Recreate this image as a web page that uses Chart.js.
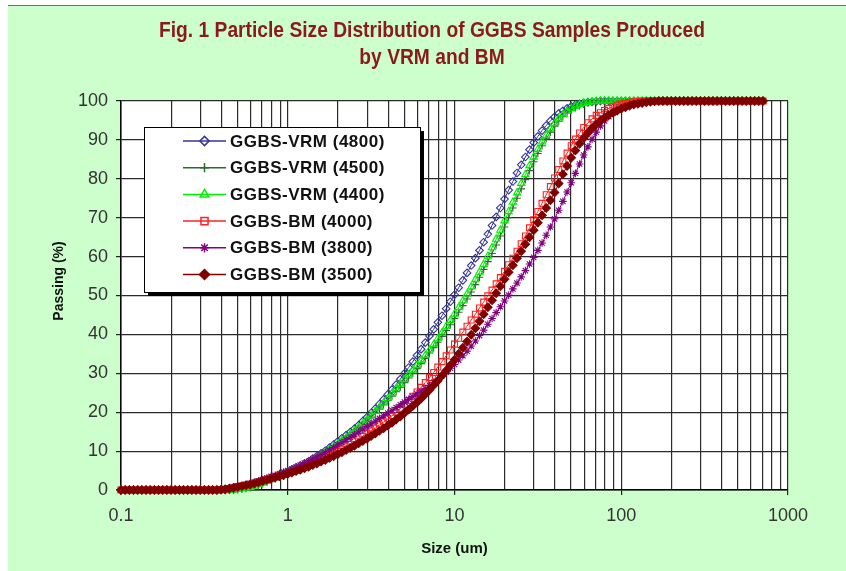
<!DOCTYPE html>
<html>
<head>
<meta charset="utf-8">
<script src="https://cdn.jsdelivr.net/npm/chart.js@4/dist/chart.umd.min.js"></script>
<style>
  html, body { margin: 0; padding: 0; background: #fff; }
  #frame {
    position: absolute; left: 8px; top: 5px;
    width: 838px; height: 565px;
    border-top: 1px solid #6e6e6e;
    background: #ccffcc;
  }
  #chart { display: block; }
</style>
</head>
<body>
<div id="frame"><canvas id="chart" width="838" height="565"></canvas></div>
<script>
// particle size classes (um)
const sizes = [
  0.1, 0.1059, 0.1122, 0.1189, 0.1259, 0.1334, 0.1413, 0.1496, 0.1585, 0.1679,
  0.1778, 0.1884, 0.1995, 0.2113, 0.2239, 0.2371, 0.2512, 0.2661, 0.2818, 0.2985,
  0.3162, 0.3350, 0.3548, 0.3758, 0.3981, 0.4217, 0.4467, 0.4732, 0.5012, 0.5309,
  0.5623, 0.5957, 0.6310, 0.6683, 0.7079, 0.7499, 0.7943, 0.8414, 0.8913, 0.9441,
  1.000, 1.059, 1.122, 1.189, 1.259, 1.334, 1.413, 1.496, 1.585, 1.679,
  1.778, 1.884, 1.995, 2.113, 2.239, 2.371, 2.512, 2.661, 2.818, 2.985,
  3.162, 3.350, 3.548, 3.758, 3.981, 4.217, 4.467, 4.732, 5.012, 5.309,
  5.623, 5.957, 6.310, 6.683, 7.079, 7.499, 7.943, 8.414, 8.913, 9.441,
  10.00, 10.59, 11.22, 11.89, 12.59, 13.34, 14.13, 14.96, 15.85, 16.79,
  17.78, 18.84, 19.95, 21.13, 22.39, 23.71, 25.12, 26.61, 28.18, 29.85,
  31.62, 33.50, 35.48, 37.58, 39.81, 42.17, 44.67, 47.32, 50.12, 53.09,
  56.23, 59.57, 63.10, 66.83, 70.79, 74.99, 79.43, 84.14, 89.13, 94.41,
  100.0, 105.9, 112.2, 118.9, 125.9, 133.4, 141.3, 149.6, 158.5, 167.9,
  177.8, 188.4, 199.5, 211.3, 223.9, 237.1, 251.2, 266.1, 281.8, 298.5,
  316.2, 335.0, 354.8, 375.8, 398.1, 421.7, 446.7, 473.2, 501.2, 530.9,
  562.3, 595.7, 631.0, 668.3, 707.9
];

// cumulative passing (%)
const vrm4800 = [
  0, 0, 0, 0, 0, 0, 0, 0, 0, 0,
  0, 0, 0, 0, 0, 0, 0, 0, 0, 0,
  0, 0, 0, 0, 0, 0, 0.1, 0.2, 0.4, 0.6,
  0.8, 1.1, 1.4, 1.7, 2.1, 2.5, 3.0, 3.4, 3.9, 4.3,
  4.8, 5.3, 5.8, 6.3, 6.8, 7.4, 8.1, 8.7, 9.4, 10.1,
  10.9, 11.7, 12.5, 13.3, 14.1, 14.9, 15.8, 16.7, 17.7, 18.7,
  19.8, 20.9, 22.1, 23.3, 24.6, 25.8, 27.1, 28.5, 30.0, 31.5,
  33.0, 34.6, 36.2, 37.9, 39.6, 41.3, 43.1, 44.8, 46.6, 48.4,
  50.2, 52.0, 53.9, 55.8, 57.7, 59.6, 61.6, 63.7, 65.8, 68.0,
  70.2, 72.5, 74.8, 77.1, 79.3, 81.5, 83.6, 85.6, 87.5, 89.3,
  90.9, 92.4, 93.7, 94.9, 95.9, 96.8, 97.5, 98.1, 98.6, 99.0,
  99.3, 99.5, 99.7, 99.8, 99.9, 100, 100, 100, 100, 100,
  100, 100, 100, 100, 100, 100, 100, 100, 100, 100,
  100, 100, 100, 100, 100, 100, 100, 100, 100, 100,
  100, 100, 100, 100, 100, 100, 100, 100, 100, 100,
  100, 100, 100, 100, 100
];
const vrm4500 = [
  0, 0, 0, 0, 0, 0, 0, 0, 0, 0,
  0, 0, 0, 0, 0, 0, 0, 0, 0, 0,
  0, 0, 0, 0, 0, 0, 0, 0, 0.1, 0.2,
  0.4, 0.6, 0.9, 1.2, 1.6, 2.0, 2.5, 2.9, 3.3, 3.7,
  4.2, 4.7, 5.2, 5.7, 6.3, 6.9, 7.5, 8.1, 8.8, 9.4,
  10.1, 10.8, 11.6, 12.4, 13.2, 14.0, 14.9, 15.8, 16.7, 17.7,
  18.7, 19.7, 20.8, 21.9, 23.0, 24.1, 25.3, 26.4, 27.6, 28.8,
  30.0, 31.2, 32.5, 33.8, 35.2, 36.6, 38.0, 39.5, 41.0, 42.5,
  44.1, 45.7, 47.4, 49.1, 50.9, 52.8, 54.7, 56.7, 58.7, 60.8,
  63.0, 65.3, 67.6, 70.0, 72.5, 75.0, 77.4, 79.8, 82.1, 84.4,
  86.5, 88.5, 90.3, 92.0, 93.5, 94.8, 96.0, 96.9, 97.7, 98.3,
  98.8, 99.2, 99.5, 99.7, 99.8, 99.9, 100, 100, 100, 100,
  100, 100, 100, 100, 100, 100, 100, 100, 100, 100,
  100, 100, 100, 100, 100, 100, 100, 100, 100, 100,
  100, 100, 100, 100, 100, 100, 100, 100, 100, 100,
  100, 100, 100, 100, 100
];
const vrm4400 = [
  0, 0, 0, 0, 0, 0, 0, 0, 0, 0,
  0, 0, 0, 0, 0, 0, 0, 0, 0, 0,
  0, 0, 0, 0, 0, 0, 0, 0, 0.2, 0.3,
  0.5, 0.7, 1.0, 1.4, 1.8, 2.2, 2.7, 3.1, 3.5, 3.9,
  4.4, 4.9, 5.4, 5.9, 6.5, 7.1, 7.7, 8.3, 9.0, 9.7,
  10.4, 11.1, 11.9, 12.7, 13.5, 14.3, 15.2, 16.1, 17.1, 18.1,
  19.1, 20.2, 21.3, 22.4, 23.6, 24.8, 26.0, 27.2, 28.4, 29.6,
  30.8, 32.0, 33.3, 34.6, 36.0, 37.4, 38.9, 40.4, 42.0, 43.6,
  45.2, 46.9, 48.6, 50.4, 52.2, 54.1, 56.0, 58.0, 60.1, 62.3,
  64.5, 66.8, 69.2, 71.6, 74.0, 76.4, 78.8, 81.1, 83.4, 85.6,
  87.6, 89.5, 91.2, 92.8, 94.2, 95.4, 96.5, 97.4, 98.1, 98.7,
  99.1, 99.4, 99.6, 99.8, 99.9, 100, 100, 100, 100, 100,
  100, 100, 100, 100, 100, 100, 100, 100, 100, 100,
  100, 100, 100, 100, 100, 100, 100, 100, 100, 100,
  100, 100, 100, 100, 100, 100, 100, 100, 100, 100,
  100, 100, 100, 100, 100
];
const bm4000 = [
  0, 0, 0, 0, 0, 0, 0, 0, 0, 0,
  0, 0, 0, 0, 0, 0, 0, 0, 0, 0,
  0, 0, 0, 0, 0.1, 0.2, 0.4, 0.6, 0.9, 1.1,
  1.3, 1.5, 1.8, 2.1, 2.4, 2.7, 3.1, 3.4, 3.7, 4.0,
  4.4, 4.7, 5.1, 5.5, 5.9, 6.3, 6.8, 7.2, 7.7, 8.2,
  8.8, 9.3, 9.9, 10.5, 11.1, 11.7, 12.4, 13.1, 13.8, 14.5,
  15.2, 15.9, 16.7, 17.5, 18.3, 19.1, 20.0, 21.0, 22.0, 23.0,
  24.1, 25.2, 26.4, 27.6, 28.9, 30.2, 31.6, 33.0, 34.5, 36.0,
  37.5, 39.0, 40.6, 42.1, 43.7, 45.2, 46.8, 48.3, 49.9, 51.4,
  53.0, 54.6, 56.2, 57.9, 59.6, 61.4, 63.3, 65.3, 67.4, 69.5,
  71.6, 73.7, 75.9, 78.0, 80.2, 82.4, 84.6, 86.6, 88.5, 90.2,
  91.8, 93.2, 94.4, 95.4, 96.3, 97.0, 97.6, 98.1, 98.5, 98.9,
  99.2, 99.4, 99.6, 99.8, 99.9, 100, 100, 100, 100, 100,
  100, 100, 100, 100, 100, 100, 100, 100, 100, 100,
  100, 100, 100, 100, 100, 100, 100, 100, 100, 100,
  100, 100, 100, 100, 100
];
const bm3800 = [
  0, 0, 0, 0, 0, 0, 0, 0, 0, 0,
  0, 0, 0, 0, 0, 0, 0, 0, 0, 0,
  0, 0, 0, 0, 0.1, 0.3, 0.5, 0.7, 0.9, 1.1,
  1.4, 1.7, 2.0, 2.3, 2.7, 3.1, 3.5, 3.8, 4.2, 4.6,
  5.0, 5.4, 5.9, 6.4, 6.9, 7.4, 8.0, 8.5, 9.1, 9.7,
  10.3, 10.9, 11.6, 12.2, 12.9, 13.5, 14.2, 14.9, 15.6, 16.3,
  17.0, 17.7, 18.4, 19.1, 19.8, 20.5, 21.2, 21.9, 22.6, 23.3,
  24.0, 24.7, 25.4, 26.1, 26.9, 27.7, 28.5, 29.4, 30.3, 31.3,
  32.3, 33.4, 34.5, 35.7, 37.0, 38.3, 39.7, 41.1, 42.6, 44.1,
  45.6, 47.1, 48.6, 50.1, 51.7, 53.2, 54.8, 56.4, 58.1, 59.8,
  61.6, 63.5, 65.5, 67.6, 69.7, 71.9, 74.2, 76.6, 79.0, 81.4,
  83.8, 86.1, 88.2, 90.2, 92.0, 93.6, 94.9, 96.0, 96.9, 97.6,
  98.2, 98.6, 99.0, 99.3, 99.5, 99.7, 99.8, 99.9, 100, 100,
  100, 100, 100, 100, 100, 100, 100, 100, 100, 100,
  100, 100, 100, 100, 100, 100, 100, 100, 100, 100,
  100, 100, 100, 100, 100
];
const bm3500 = [
  0, 0, 0, 0, 0, 0, 0, 0, 0, 0,
  0, 0, 0, 0, 0, 0, 0, 0, 0, 0,
  0, 0, 0, 0, 0.1, 0.2, 0.4, 0.6, 0.8, 1.0,
  1.2, 1.4, 1.7, 2.0, 2.3, 2.6, 2.9, 3.2, 3.5, 3.8,
  4.2, 4.5, 4.9, 5.2, 5.6, 6.0, 6.4, 6.8, 7.3, 7.7,
  8.2, 8.7, 9.2, 9.7, 10.3, 10.8, 11.4, 12.0, 12.6, 13.2,
  13.9, 14.5, 15.2, 15.9, 16.6, 17.3, 18.1, 18.9, 19.8, 20.7,
  21.6, 22.5, 23.5, 24.6, 25.7, 26.9, 28.1, 29.4, 30.7, 32.1,
  33.5, 35.0, 36.6, 38.2, 39.9, 41.6, 43.4, 45.2, 47.0, 48.8,
  50.6, 52.4, 54.2, 56.0, 57.8, 59.6, 61.4, 63.2, 65.0, 66.8,
  68.7, 70.6, 72.5, 74.5, 76.5, 78.8, 81.2, 83.3, 85.4, 87.3,
  89.0, 90.5, 91.8, 93.0, 94.0, 94.9, 95.7, 96.4, 97.0, 97.5,
  98.0, 98.4, 98.8, 99.1, 99.3, 99.5, 99.7, 99.8, 99.9, 100,
  100, 100, 100, 100, 100, 100, 100, 100, 100, 100,
  100, 100, 100, 100, 100, 100, 100, 100, 100, 100,
  100, 100, 100, 100, 100
];

const xTicks = [0.1, 1, 10, 100, 1000];
const titleLines = ['Fig. 1 Particle Size Distribution of GGBS Samples Produced', 'by VRM and BM'];

const FONT = "'Liberation Sans', Arial, sans-serif";

function series(label, values, color, style, fill, radius) {
  return {
    label,
    data: sizes.map((s, i) => ({ x: s, y: values[i] })),
    borderColor: color,
    backgroundColor: fill ? color : 'rgba(0,0,0,0)',
    borderWidth: 1,
    pointStyle: style,
    pointRadius: radius,
    pointBorderColor: color,
    pointBackgroundColor: fill ? color : 'rgba(0,0,0,0)',
    pointBorderWidth: 1.1,
    tension: 0,
    clip: false
  };
}

const datasets = [
  series('GGBS-VRM (4800)', vrm4800, '#333399', 'rectRot', false, 3.8),
  series('GGBS-VRM (4500)', vrm4500, '#2e6b2e', 'cross', false, 3.8),
  series('GGBS-VRM (4400)', vrm4400, '#00ee00', 'triangle', false, 4.2),
  series('GGBS-BM (4000)', bm4000, '#ff2020', 'rect', false, 4.2),
  series('GGBS-BM (3800)', bm3800, '#800080', 'star', false, 3.8),
  series('GGBS-BM (3500)', bm3500, '#800000', 'rectRot', true, 4.2)
];
// later series on top, as in the spreadsheet
datasets.forEach((d, i) => { d.order = datasets.length - i; });

const isDecade = v => Math.abs(Math.log10(v) - Math.round(Math.log10(v))) < 1e-6;

// white plot background
const plotBg = {
  id: 'plotBg',
  beforeDraw(chart) {
    const { ctx, chartArea: a } = chart;
    ctx.save();
    ctx.fillStyle = '#ffffff';
    ctx.fillRect(a.left, a.top, a.right - a.left, a.bottom - a.top);
    ctx.restore();
  }
};

// boxed legend inside the plot, condensed title and rotated y title
const boxLegend = {
  id: 'boxLegend',
  afterDatasetsDraw(chart) {
    const ctx = chart.ctx;
    const x0 = 136, y0 = 121, w = 276, h = 165;
    ctx.save();
    ctx.fillStyle = '#000';
    ctx.fillRect(x0 + 4, y0 + 4, w, h);
    ctx.fillStyle = '#fff';
    ctx.fillRect(x0, y0, w, h);
    ctx.strokeStyle = '#000';
    ctx.lineWidth = 1;
    ctx.strokeRect(x0 + 0.5, y0 + 0.5, w, h);

    ctx.font = 'bold 17px ' + FONT;
    ctx.textBaseline = 'middle';
    ctx.textAlign = 'left';
    if ('letterSpacing' in ctx) ctx.letterSpacing = '0.5px';
    chart.data.datasets.forEach((d, i) => {
      const y = 135 + i * 26.7;
      ctx.strokeStyle = d.borderColor;
      ctx.lineWidth = 1.5;
      ctx.beginPath();
      ctx.moveTo(175, y);
      ctx.lineTo(218, y);
      ctx.stroke();
      ctx.fillStyle = d.pointBackgroundColor;
      ctx.strokeStyle = d.pointBorderColor;
      ctx.lineWidth = 1.5;
      Chart.helpers.drawPoint(ctx, { pointStyle: d.pointStyle, radius: d.pointRadius + 0.8, rotation: 0, borderWidth: 1.5 }, 196.5, y);
      ctx.fillStyle = '#111';
      ctx.fillText(d.label, 222, y + 1);
    });
    ctx.restore();
  },
  afterDraw(chart) {
    const ctx = chart.ctx;
    ctx.save();
    // narrow bold title
    ctx.font = 'bold 22px ' + FONT;
    ctx.fillStyle = '#8c1a1a';
    ctx.textAlign = 'center';
    ctx.textBaseline = 'middle';
    const sx = 546 / ctx.measureText(titleLines[0]).width;
    titleLines.forEach((t, i) => {
      ctx.save();
      ctx.translate(424, 25 + i * 27);
      ctx.scale(sx, 1);
      ctx.fillText(t, 0, 0);
      ctx.restore();
    });
    ctx.translate(51, 275);
    ctx.rotate(-Math.PI / 2);
    ctx.font = 'bold 14px ' + FONT;
    ctx.fillStyle = '#111';
    ctx.fillText('Passing (%)', 0, 0);
    ctx.restore();
  }
};

new Chart(document.getElementById('chart'), {
  type: 'line',
  data: { datasets },
  options: {
    responsive: false,
    animation: false,
    events: [],
    layout: { padding: { left: 0, right: 58, top: 95, bottom: 0 } },
    plugins: {
      legend: { display: false },
      tooltip: { enabled: false },
      title: { display: false }
    },
    scales: {
      x: {
        type: 'logarithmic',
        min: 0.1,
        max: 1000,
        afterFit(scale) { scale.height = 81; },
        afterBuildTicks(scale) {
          // full log grid: 1..9 in every decade
          const t = [];
          xTicks.forEach((d, i) => {
            if (i === xTicks.length - 1) { t.push({ value: d }); return; }
            for (let k = 1; k < 10; k++) t.push({ value: +(d * k).toPrecision(3) });
          });
          scale.ticks = t;
        },
        grid: {
          color: '#2a2a2a',
          lineWidth: 1.2,
          tickLength: 5,
          tickColor: c => (c.tick && isDecade(c.tick.value)) ? '#222' : 'rgba(0,0,0,0)'
        },
        border: { color: '#000', width: 1.5 },
        ticks: {
          autoSkip: false,
          maxRotation: 0,
          padding: 10,
          color: '#333',
          font: { family: FONT, size: 18 },
          callback: v => isDecade(v) ? String(v) : ''
        },
        title: {
          display: true,
          text: 'Size (um)',
          color: '#111',
          font: { family: FONT, size: 15, weight: 'bold', lineHeight: 1.2 },
          padding: { top: 0, bottom: 13 }
        }
      },
      y: {
        min: 0,
        max: 100,
        afterFit(scale) { scale.width = 113; },
        grid: { color: '#2a2a2a', lineWidth: 1.2, tickLength: 5, tickColor: '#222' },
        border: { color: '#000', width: 1.5 },
        ticks: {
          stepSize: 10,
          padding: 8,
          color: '#333',
          font: { family: FONT, size: 18 }
        }
      }
    }
  },
  plugins: [plotBg, boxLegend]
});
</script>
</body>
</html>
